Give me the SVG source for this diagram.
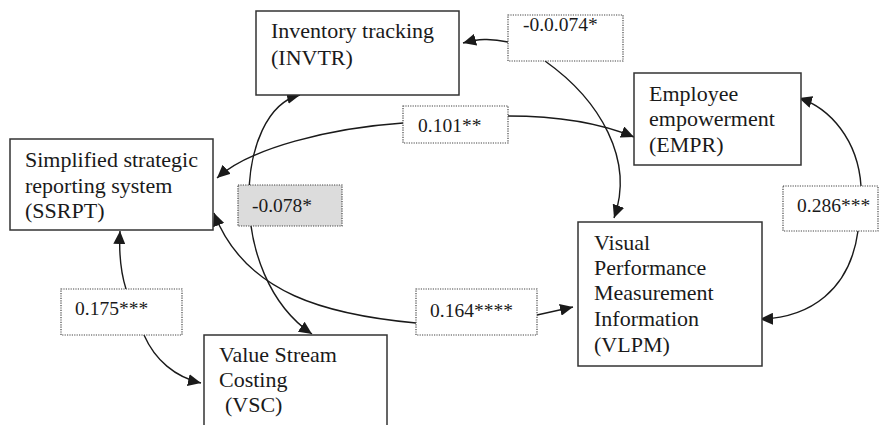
<svg xmlns="http://www.w3.org/2000/svg" width="880" height="425" viewBox="0 0 880 425">
  <defs>
    <marker id="arrow" markerUnits="userSpaceOnUse" markerWidth="14" markerHeight="12" refX="13" refY="6" orient="auto">
      <path d="M0,0 L13,6 L0,12 z" fill="#1a1a1a"/>
    </marker>
    <marker id="arrowStart" markerUnits="userSpaceOnUse" markerWidth="14" markerHeight="12" refX="13" refY="6" orient="auto-start-reverse">
      <path d="M0,0 L13,6 L0,12 z" fill="#1a1a1a"/>
    </marker>
    <style>
      .node rect { fill: #ffffff; stroke: #333333; stroke-width: 1.5; }
      .coef rect { fill: #ffffff; stroke: #444444; stroke-width: 1.2; stroke-dasharray: 1.2 1.2; }
      .coef.shaded rect { fill: #dcdcdc; }
      text { font-family: "Liberation Serif", "Times New Roman", serif; fill: #1a1a1a; }
      .node text { font-size: 22px; }
      .coef text { font-size: 19.5px; }
      .edge { fill: none; stroke: #1a1a1a; stroke-width: 1.4; }
    </style>
  </defs>

  <rect x="0" y="0" width="880" height="425" fill="#ffffff"/>

  <!-- connectors -->
  <g id="connectors">
    <path class="edge" d="M508,42 C490,38 478,39 463,43" marker-end="url(#arrow)"/>
    <path class="edge" d="M545,61 C600,100 635,160 614,218" marker-end="url(#arrow)"/>
    <path class="edge" d="M508,116 C560,116 600,123 634,137" marker-end="url(#arrow)"/>
    <path class="edge" d="M403,123 C330,128 250,148 217,178" marker-end="url(#arrow)"/>
    <path class="edge" d="M300,95 C235,110 225,275 312,334" marker-start="url(#arrowStart)" marker-end="url(#arrow)"/>
    <path class="edge" d="M416,323 C330,315 245,295 214,213" marker-end="url(#arrow)"/>
    <path class="edge" d="M537,315 L573,307" marker-end="url(#arrow)"/>
    <path class="edge" d="M861,186 C858,140 830,108 799,98" marker-end="url(#arrow)"/>
    <path class="edge" d="M858,231 C850,290 810,318 760,319" marker-end="url(#arrow)"/>
    <path class="edge" d="M126,289 C120,270 119,250 120,231" marker-end="url(#arrow)"/>
    <path class="edge" d="M144,335 C155,360 175,377 201,383" marker-end="url(#arrow)"/>
  </g>

  <!-- coefficient labels -->
  <g id="coef-invtr-vlpm" class="coef">
    <rect x="508" y="15" width="115" height="46"/>
    <text x="523" y="31">-0.0.074*</text>
  </g>
  <g id="coef-ssrpt-empr" class="coef">
    <rect x="403" y="106" width="105" height="37"/>
    <text x="418" y="132">0.101**</text>
  </g>
  <g id="coef-invtr-vsc" class="coef shaded">
    <rect x="238" y="185" width="104" height="41"/>
    <text x="252" y="212">-0.078*</text>
  </g>
  <g id="coef-empr-vlpm" class="coef">
    <rect x="783" y="186" width="95" height="45"/>
    <text x="797" y="212">0.286***</text>
  </g>
  <g id="coef-ssrpt-vlpm" class="coef">
    <rect x="416" y="289" width="121" height="46"/>
    <text x="430" y="317">0.164****</text>
  </g>
  <g id="coef-ssrpt-vsc" class="coef">
    <rect x="61" y="289" width="121" height="46"/>
    <text x="75" y="315">0.175***</text>
  </g>

  <!-- nodes -->
  <g id="node-invtr" class="node">
    <rect x="256" y="11" width="203" height="84"/>
    <text x="271" y="38">Inventory tracking</text>
    <text x="271" y="65">(INVTR)</text>
  </g>
  <g id="node-empr" class="node">
    <rect x="634" y="73" width="167" height="92"/>
    <text x="649" y="101">Employee</text>
    <text x="649" y="126">empowerment</text>
    <text x="649" y="152">(EMPR)</text>
  </g>
  <g id="node-ssrpt" class="node">
    <rect x="10" y="139" width="203" height="91"/>
    <text x="25" y="167">Simplified strategic</text>
    <text x="25" y="193">reporting system</text>
    <text x="25" y="218">(SSRPT)</text>
  </g>
  <g id="node-vlpm" class="node">
    <rect x="578" y="222" width="184" height="144"/>
    <text x="594" y="250">Visual</text>
    <text x="594" y="275">Performance</text>
    <text x="594" y="300">Measurement</text>
    <text x="594" y="326">Information</text>
    <text x="594" y="352">(VLPM)</text>
  </g>
  <g id="node-vsc" class="node">
    <rect x="204" y="335" width="183" height="100"/>
    <text x="219" y="362">Value Stream</text>
    <text x="219" y="387">Costing</text>
    <text x="225" y="412">(VSC)</text>
  </g>
</svg>
